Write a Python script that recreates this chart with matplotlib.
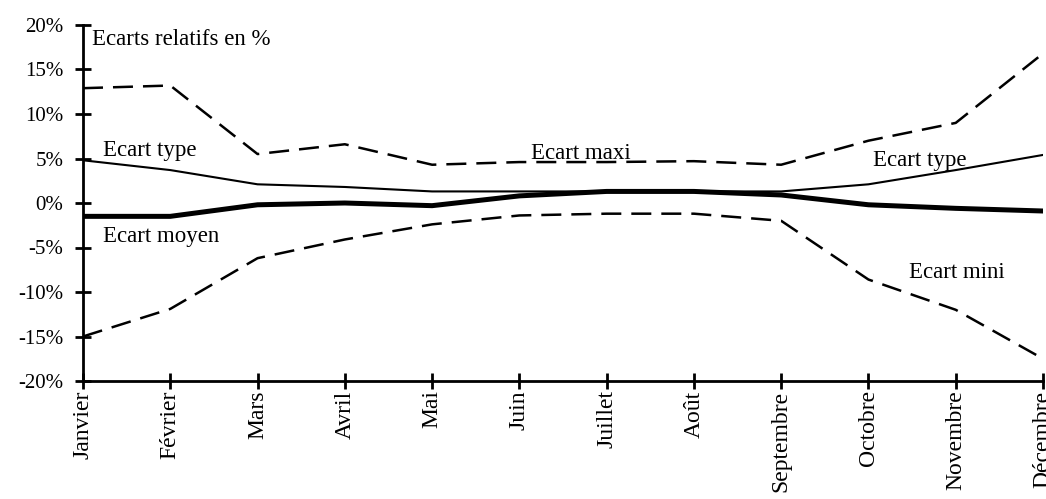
import numpy as np
import matplotlib
matplotlib.use("Agg")
import matplotlib.pyplot as plt

plt.rcParams['font.family'] = ['Liberation Serif', 'DejaVu Serif']

mois = ["Janvier", "Février", "Mars", "Avril", "Mai", "Juin", "Juillet",
        "Août", "Septembre", "Octobre", "Novembre", "Décembre"]

# ecarts relatifs en %
ecart_maxi = [12.9, 13.2, 5.5, 6.6, 4.3, 4.6, 4.6, 4.7, 4.3, 7.0, 9.0, 16.8]
ecart_type = [4.8, 3.7, 2.1, 1.8, 1.3, 1.3, 1.3, 1.3, 1.3, 2.1, 3.7, 5.4]
ecart_moyen = [-1.5, -1.5, -0.2, 0.0, -0.3, 0.8, 1.3, 1.3, 0.9, -0.2, -0.6, -0.9]
ecart_mini = [-15.0, -11.9, -6.2, -4.1, -2.4, -1.4, -1.2, -1.2, -2.0, -8.6, -12.0, -17.5]

x = np.arange(len(mois))

fig = plt.figure(figsize=(10.46, 4.99), dpi=100)
ax = fig.add_axes([83 / 1046, 1 - 381 / 499, (1043 - 83) / 1046, (381 - 25) / 499])

dash = (0, (8, 4))
ax.plot(x, ecart_maxi, color='black', lw=1.8, linestyle=dash)
ax.plot(x, ecart_mini, color='black', lw=1.8, linestyle=dash)
ax.plot(x, ecart_type, color='black', lw=1.5)
ax.plot(x, ecart_moyen, color='black', lw=3.6)

ax.set_xlim(0, 11)
ax.set_ylim(-20, 20)
ax.set_yticks(np.arange(-20, 21, 5))
ax.set_yticklabels([f"{v}%" for v in range(-20, 21, 5)], fontsize=15)
ax.set_xticks(x)
ax.set_xticklabels(mois, rotation=90, fontsize=17)

for s in ['top', 'right']:
    ax.spines[s].set_visible(False)
for s in ['left', 'bottom']:
    ax.spines[s].set_linewidth(2)
ax.tick_params(axis='y', direction='inout', length=12, width=2, pad=8)
ax.tick_params(axis='x', direction='inout', length=11.5, width=2, pad=1)

fs = 16.5
ax.text(0.1, 18.4, "Ecarts relatifs en %", fontsize=fs, va='center')
ax.text(0.23, 5.9, "Ecart type", fontsize=fs, va='center')
ax.text(0.23, -3.8, "Ecart moyen", fontsize=fs, va='center')
ax.text(5.13, 5.6, "Ecart maxi", fontsize=fs, va='center')
ax.text(9.05, 4.8, "Ecart type", fontsize=fs, va='center')
ax.text(9.47, -7.8, "Ecart mini", fontsize=fs, va='center')

fig.savefig("out.png", dpi=100)
